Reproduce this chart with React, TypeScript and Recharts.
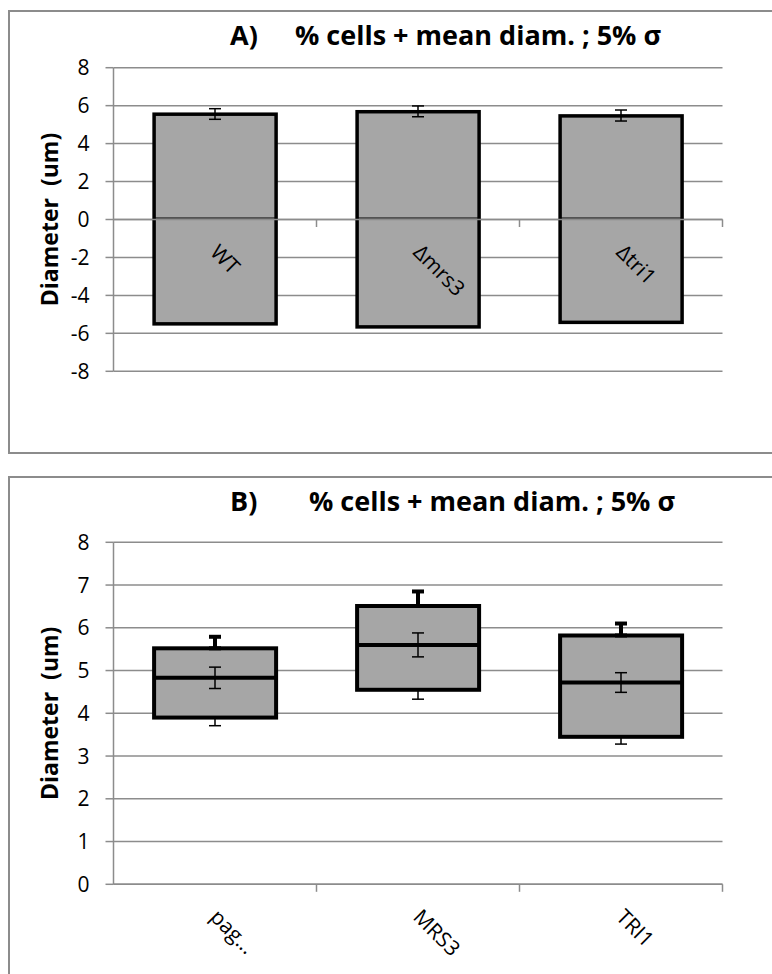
import React from "react";
import {
  ComposedChart,
  Bar,
  Line,
  ErrorBar,
  XAxis,
  YAxis,
  CartesianGrid,
  ReferenceLine,
} from "recharts";

// Panel A: full bars spanning -d..+d, with error on the mean diameter
const strainsA = ["WT", "Δmrs3", "Δtri1"];
const topA = [5.55, 5.68, 5.46];
const bottomA = [-5.5, -5.66, -5.42];
const meanA = [5.56, 5.7, 5.48];
const errA = [0.28, 0.285, 0.29];
const ticksA = [-8, -6, -4, -2, 0, 2, 4, 6, 8];

// Panel B: box (q1..q3), median, whiskers and error on the median
const strainsB = ["pag...", "MRS3", "TRI1"];
const q1B = [3.9, 4.55, 3.45];
const q3B = [5.52, 6.51, 5.82];
const medB = [4.83, 5.6, 4.72];
const whiskLoB = [3.71, 4.33, 3.28];
const whiskHiB = [5.79, 6.85, 6.1];
const errB = [0.25, 0.28, 0.23];
const ticksB = [0, 1, 2, 3, 4, 5, 6, 7, 8];

const FONT = "'Open Sans', sans-serif";
const GRID = "#8c8c8c";
const FILL = "#a6a6a6";

const dataA = strainsA.map((name, i) => ({
  name,
  range: [bottomA[i], topA[i]],
  mean: meanA[i],
  err: errA[i],
}));

const dataB = strainsB.map((name, i) => ({
  name,
  box: [q1B[i], q3B[i]],
  q1: q1B[i],
  q3: q3B[i],
  med: medB[i],
  upErr: [0, whiskHiB[i] - q3B[i]],
  loErr: [q1B[i] - whiskLoB[i], 0],
  err: errB[i],
}));

// rotated category name, Excel style (reads downwards to the right)
const CatLabel = ({ x, y, text }: { x: number; y: number; text: string }) => {
  const lx = x - 6;
  const ly = y + 34;
  return (
    <text
      x={lx}
      y={ly}
      transform={`rotate(45 ${lx} ${ly})`}
      fontFamily={FONT}
      fontSize={21}
      fill="#000"
    >
      {text}
    </text>
  );
};

// bar of panel A, with the category name written just under the zero line
const SplitBar = (props: any) => {
  const { x, y, width, height, payload } = props;
  const top = Math.min(y, y + height);
  const h = Math.abs(height);
  const [lo, hi] = payload.range;
  const zy = top + (h * hi) / (hi - lo);
  return (
    <g>
      <rect x={x} y={top} width={width} height={h} fill={FILL} stroke="#000" strokeWidth={3.5} />
      <line x1={x} x2={x + width} y1={zy - 1.5} y2={zy - 1.5} stroke="#000" strokeWidth={1.2} />
      <CatLabel x={x + width / 2} y={zy} text={payload.name} />
    </g>
  );
};

// box of panel B with its median line
const BoxShape = (props: any) => {
  const { x, y, width, height, payload } = props;
  const top = Math.min(y, y + height);
  const h = Math.abs(height);
  const [lo, hi] = payload.box;
  const my = top + (h * (hi - payload.med)) / (hi - lo);
  return (
    <g>
      <rect x={x} y={top} width={width} height={h} fill={FILL} stroke="#000" strokeWidth={4} />
      <line x1={x} x2={x + width} y1={my} y2={my} stroke="#000" strokeWidth={4} />
    </g>
  );
};

// horizontal category axis at y = 0, with tick marks between categories
const ZeroAxis = (props: any) => {
  const { x1, x2, y1, n } = props;
  const marks = [];
  for (let k = 1; k <= n; k++) {
    const mx = x1 + ((x2 - x1) * k) / n;
    marks.push(<line key={k} x1={mx} x2={mx} y1={y1} y2={y1 + 7.5} stroke={GRID} strokeWidth={1.5} />);
  }
  return (
    <g>
      <line x1={x1} x2={x2} y1={y1} y2={y1} stroke={GRID} strokeWidth={1.5} />
      {marks}
    </g>
  );
};

const YLabel = (props: any) => {
  const vb = props.viewBox || { x: 0, y: 0, height: 0 };
  const cx = vb.x + 58;
  const cy = vb.y + vb.height / 2;
  return (
    <text
      x={cx}
      y={cy}
      transform={`rotate(-90 ${cx} ${cy})`}
      textAnchor="middle"
      fontFamily={FONT}
      fontWeight={700}
      fontSize={23}
      fill="#000"
      style={{ whiteSpace: "pre" }}
    >
      Diameter  (um)
    </text>
  );
};

const yAxisProps = {
  width: 113.5,
  interval: 0 as const,
  axisLine: { stroke: GRID, strokeWidth: 1.5 },
  tickLine: { stroke: GRID, strokeWidth: 1.5 },
  tickSize: 8,
  tickMargin: 16,
  tick: { fill: "#000", fontSize: 21, fontFamily: FONT },
  label: { position: "center" as const, content: (p: any) => <YLabel {...p} /> },
};

const frame: React.CSSProperties = {
  position: "absolute",
  left: 8,
  width: 800,
  border: `2px solid ${GRID}`,
};

const titleStyle = { fontFamily: FONT, fontWeight: 700, fontSize: 27, fill: "#000" };

export default function App() {
  return (
    <div style={{ position: "relative", width: 772, height: 974, overflow: "hidden", background: "#fff" }}>
      <style>{"body{margin:0}"}</style>
      <div style={{ ...frame, top: 10, height: 440.3 }} />
      <div style={{ ...frame, top: 476, height: 600 }} />

      <div style={{ position: "absolute", left: 0, top: 0 }}>
        <ComposedChart
          width={772}
          height={453}
          data={dataA}
          margin={{ top: 67.7, right: 49.5, bottom: 81.7, left: 0 }}
          barCategoryGap="20%"
        >
          <CartesianGrid vertical={false} stroke={GRID} strokeWidth={1.5} />
          <XAxis dataKey="name" hide />
          <YAxis domain={[-8, 8]} ticks={ticksA} {...yAxisProps} />
          <Bar dataKey="range" shape={<SplitBar />} isAnimationActive={false} />
          <ReferenceLine y={0} shape={(p: any) => <ZeroAxis {...p} n={strainsA.length} />} />
          <Line dataKey="mean" stroke="none" dot={false} activeDot={false} isAnimationActive={false}>
            <ErrorBar dataKey="err" width={6} strokeWidth={1.5} stroke="#000" />
          </Line>
        </ComposedChart>
      </div>

      <div style={{ position: "absolute", left: 0, top: 460 }}>
        <ComposedChart
          width={772}
          height={514}
          data={dataB}
          margin={{ top: 82.3, right: 49.5, bottom: 0, left: 0 }}
          barCategoryGap="20%"
        >
          <CartesianGrid vertical={false} stroke={GRID} strokeWidth={1.5} />
          <XAxis
            dataKey="name"
            height={89.7}
            axisLine={false}
            tickLine={false}
            tickSize={0}
            tickMargin={0}
            interval={0}
            tick={(p: any) => <CatLabel x={p.x} y={p.y} text={p.payload.value} />}
          />
          <YAxis domain={[0, 8]} ticks={ticksB} {...yAxisProps} />
          <Bar dataKey="box" shape={<BoxShape />} isAnimationActive={false} />
          <ReferenceLine y={0} shape={(p: any) => <ZeroAxis {...p} n={strainsB.length} />} />
          <Line dataKey="q3" stroke="none" dot={false} activeDot={false} isAnimationActive={false}>
            <ErrorBar dataKey="upErr" width={6} strokeWidth={4} stroke="#000" />
          </Line>
          <Line dataKey="q1" stroke="none" dot={false} activeDot={false} isAnimationActive={false}>
            <ErrorBar dataKey="loErr" width={6} strokeWidth={1.5} stroke="#000" />
          </Line>
          <Line dataKey="med" stroke="none" dot={false} activeDot={false} isAnimationActive={false}>
            <ErrorBar dataKey="err" width={6} strokeWidth={1.5} stroke="#000" />
          </Line>
        </ComposedChart>
      </div>

      <svg width={772} height={974} style={{ position: "absolute", left: 0, top: 0, pointerEvents: "none" }}>
        <text x={230} y={45} {...titleStyle}>A)</text>
        <text x={295} y={45} {...titleStyle}>% cells + mean diam. ; 5% σ</text>
        <text x={230} y={511} {...titleStyle}>B)</text>
        <text x={309} y={511} {...titleStyle}>% cells + mean diam. ; 5% σ</text>
      </svg>
    </div>
  );
}
